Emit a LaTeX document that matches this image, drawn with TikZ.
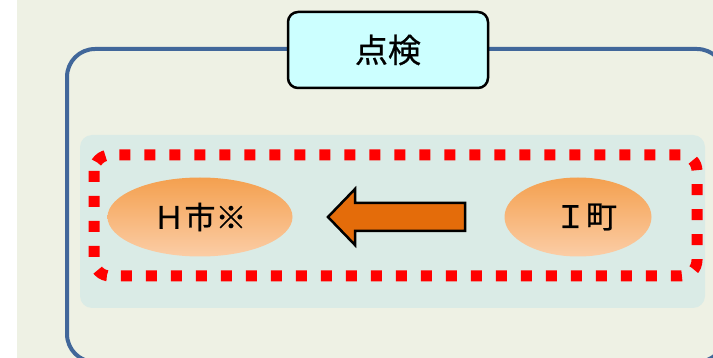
\documentclass[tikz,border=0pt]{standalone}
\usepackage{fontspec}
\setmainfont{Noto Sans CJK JP}[FakeBold=0.6]
\usetikzlibrary{shapes.geometric}

\definecolor{paper}{HTML}{EEF1E4}
\definecolor{frameblue}{HTML}{41679A}
\definecolor{tagcyan}{HTML}{CCFFFF}
\definecolor{panelgreen}{HTML}{DAEBE6}
\definecolor{towntop}{HTML}{F4A04F}
\definecolor{townbot}{HTML}{FBCDA6}
\definecolor{flowfill}{HTML}{E46C0A}

\begin{document}
\begin{tikzpicture} [
    x=1pt, y=-1pt,
    frame/.style={draw=frameblue, line width=4pt, rounded corners=28pt},
    tag/.style={draw=black, line width=2.5pt, fill=tagcyan, rounded corners=10pt,
      minimum width=200pt, minimum height=76pt, inner sep=0pt,
      font=\fontsize{33}{33}\selectfont},
    panel/.style={fill=panelgreen, rounded corners=12pt},
    zone/.style={draw=red, line width=11pt, dash pattern=on 11pt off 14pt,
      rounded corners=16pt},
    town/.style={ellipse, top color=towntop, bottom color=townbot, inner sep=0pt,
      minimum width=185pt, minimum height=79pt,
      font=\fontsize{31}{31}\selectfont},
    flow/.style={draw=black, line width=2.5pt, fill=flowfill, line join=miter}
  ]
  \useasboundingbox (0,0) rectangle (713,358);
  \clip (0,0) rectangle (713,358);
  \fill[white] (0,0) rectangle (713,358);
  \fill[paper] (17,0) rectangle (713,358);

  % outer frame and its title
  \draw[frame] (67,49) rectangle (725,362);
  \node[tag] (title) at (388,50) {点検};

  % inner area with the dotted boundary
  \fill[panel] (80,135) rectangle (705,308);
  \draw[zone] (94,155) rectangle (697,276);

  \node[town] (hcity) at (200,217) {Ｈ市※};
  \node[town, minimum width=147pt] (itown) at (578,217) {\hspace{16pt}Ｉ町};

  % block arrow from the town to the city
  \draw[flow] (465,203) -- (355,203) -- (355,189) -- (328,217)
    -- (355,245) -- (355,231) -- (465,231) -- cycle;
\end{tikzpicture}
\end{document}
